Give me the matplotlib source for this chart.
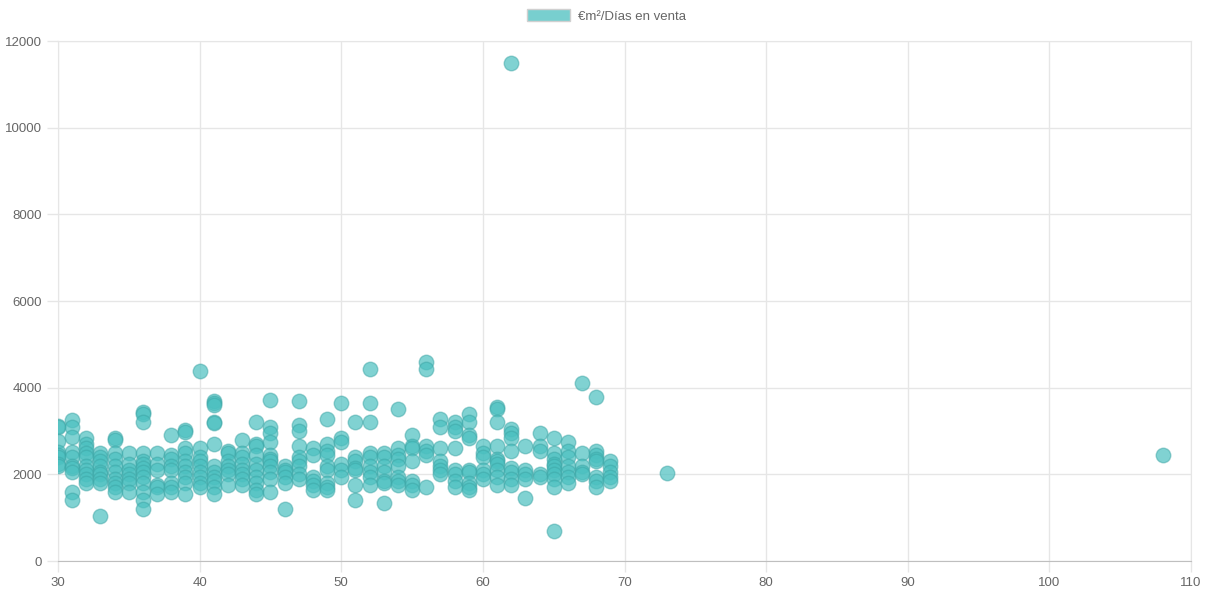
import matplotlib.pyplot as plt
from matplotlib.patches import Patch

# dias en venta (x) and the €/m² values found at each one (y)
dias = [30, 31, 32, 33, 34, 35, 36, 37, 38, 39,
        40, 41, 42, 43, 44, 45, 46, 47, 48, 49,
        50, 51, 52, 53, 54, 55, 56, 57, 58, 59,
        60, 61, 62, 63, 64, 65, 66, 67, 68, 69, 73, 108]
valores = [
    [3120, 3100, 2780, 2520, 2450, 2400, 2250, 2200],
    [3250, 3100, 2870, 2520, 2400, 2200, 2150, 2050, 1600, 1400],
    [2850, 2700, 2600, 2500, 2400, 2200, 2100, 2000, 1900, 1800],
    [2500, 2400, 2300, 2200, 2050, 2000, 1900, 1800, 1050],
    [2850, 2800, 2500, 2350, 2200, 2050, 1900, 1800, 1700, 1600],
    [2500, 2250, 2100, 2000, 1900, 1800, 1600],
    [3450, 3400, 3200, 2500, 2300, 2250, 2150, 2050, 1950, 1800, 1600, 1400, 1200],
    [2500, 2250, 2100, 1750, 1700, 1550],
    [2900, 2450, 2350, 2200, 2100, 1800, 1700, 1600],
    [3020, 2980, 2600, 2500, 2300, 2200, 2050, 1950, 1800, 1550],
    [4380, 2600, 2400, 2300, 2200, 2050, 1950, 1800, 1700],
    [3700, 3650, 3600, 3200, 3180, 2700, 2200, 2050, 1950, 1850, 1700, 1550],
    [2550, 2500, 2300, 2200, 2100, 2000, 1750],
    [2800, 2500, 2400, 2250, 2100, 2000, 1900, 1750],
    [3200, 2700, 2650, 2450, 2250, 2100, 1950, 1800, 1650, 1550],
    [3720, 3100, 2950, 2750, 2450, 2350, 2300, 2200, 2050, 1900, 1600],
    [2200, 2100, 2050, 1950, 1800, 1200],
    [3700, 3150, 3000, 2650, 2400, 2300, 2200, 2000, 1900],
    [2600, 2450, 1950, 1850, 1750, 1650],
    [3280, 2700, 2550, 2450, 2200, 2100, 1800, 1700, 1650],
    [3650, 2850, 2750, 2250, 2100, 1950],
    [3200, 2400, 2300, 2150, 2100, 1750, 1400],
    [4440, 3650, 3200, 2500, 2400, 2200, 2050, 1950, 1750],
    [2500, 2400, 2200, 2050, 1850, 1800, 1350],
    [3500, 2600, 2450, 2350, 2200, 1950, 1850, 1750],
    [2900, 2650, 2600, 2300, 1850, 1750, 1650],
    [4600, 4420, 2650, 2550, 2450, 1700],
    [3280, 3100, 2600, 2300, 2200, 2100, 2000],
    [3200, 3100, 3000, 2600, 2100, 2000, 1850, 1700],
    [3400, 3200, 2900, 2850, 2100, 2050, 1800, 1700, 1650],
    [2650, 2500, 2400, 2100, 2000, 1900],
    [3550, 3500, 3200, 2650, 2350, 2300, 2250, 2100, 1950, 1750],
    [11500, 3050, 2950, 2850, 2550, 2150, 2050, 1900, 1750],
    [2650, 2100, 2000, 1900, 1450],
    [2950, 2650, 2550, 2000, 1950],
    [2850, 2500, 2350, 2250, 2200, 2100, 2000, 1900, 1700, 700],
    [2750, 2550, 2400, 2200, 2050, 1950, 1800],
    [4100, 2500, 2200, 2050, 2000],
    [3780, 2550, 2450, 2350, 2300, 1950, 1850, 1700],
    [2300, 2200, 2050, 1950, 1850],
    [2030],
    [2450],
]
etiqueta = "€m²/Días en venta"

x = []
y = []
for d, vals in zip(dias, valores):
    for v in vals:
        x.append(d)
        y.append(v)

plt.rcParams['font.family'] = ['Liberation Sans', 'DejaVu Sans']
fill = (75/255, 192/255, 192/255, 0.7)
edge = (60/255, 165/255, 165/255, 0.5)
grey = '#666666'
light = '#e6e6e6'

fig = plt.figure(figsize=(12.13, 5.95), dpi=100)
ax = fig.add_axes([58/1213, 34/595, 1133/1213, 520/595])

ax.scatter(x, y, s=110, color=fill, edgecolors=edge, linewidths=1, zorder=3)

ax.set_xlim(30, 110)
ax.set_ylim(0, 12000)
ax.set_xticks(range(30, 111, 10))
ax.set_yticks(range(0, 12001, 2000))
ax.set_axisbelow(True)
ax.grid(True, color=light, linewidth=1)
ax.tick_params(color=light, labelcolor=grey, labelsize=9.5,
               length=8, width=1, grid_color=light)
for s in ['top', 'right', 'left']:
    ax.spines[s].set_color(light)
ax.spines['bottom'].set_color('#bfbfbf')

fig.legend(handles=[Patch(facecolor=(75/255, 192/255, 192/255, 0.75),
                          edgecolor='#d0d0d0', label=etiqueta)],
           loc='upper center', bbox_to_anchor=(0.5, 1.0), frameon=False,
           handlelength=3.3, handleheight=1.0, fontsize=9.5,
           labelcolor=grey, handletextpad=0.6, borderaxespad=0.3)

fig.savefig('out.png', dpi=100)
